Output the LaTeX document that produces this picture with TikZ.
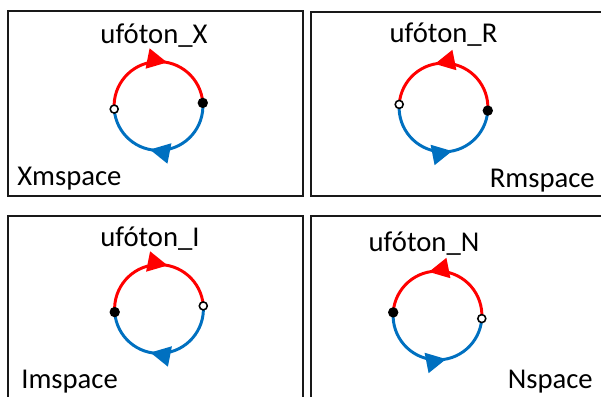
\documentclass[tikz,border=0pt]{standalone}
\usepackage{fontspec}
\setmainfont{Carlito}
\usetikzlibrary{arrows.meta,decorations.markings}
\definecolor{phred}{RGB}{255,0,0}
\definecolor{phblue}{RGB}{0,112,192}
\tikzset{
  frame/.style={draw=black!90,line width=1.4pt},
  lbl/.style={inner sep=0pt,font=\fontsize{20.4}{24}\selectfont},
  ring/.style={line width=2.1pt,postaction={decorate},decoration={markings,
               mark=at position 0.585 with {\arrow{Triangle[length=5mm,width=5mm]}}}},
  hole/.style={circle,draw=black,fill=white,line width=1.1pt,inner sep=0pt,minimum size=2mm},
  fulldot/.style={circle,fill=black,inner sep=0pt,minimum size=2.6mm}
}
\begin{document}
\begin{tikzpicture}
  \useasboundingbox (0,0) rectangle (15.025,9.925);
  % box X : clockwise
  \draw[frame] (0.2,5.025) rectangle (7.575,9.65);
  \node[lbl,anchor=base] (tx) at (3.85,8.825) {ufóton\_X};
  \node[lbl,anchor=base west] (sx) at (0.425,5.275) {Xmspace};
  \coordinate (cx) at (3.9625,7.275);
  \draw[ring,phred]  (cx) ++(184:1.11) coordinate (lx) arc[start angle=184,end angle=4,radius=1.11] coordinate (rx);
  \draw[ring,phblue] (rx) arc[start angle=4,end angle=-176,radius=1.11];
  \node[hole] (ox) at (lx) {};
  \node[fulldot] (fx) at (rx) {};
  % box R : counter-clockwise
  \draw[frame] (7.775,5.025) rectangle (15.2,9.625);
  \node[lbl,anchor=base] (tr) at (11.0875,8.85) {ufóton\_R};
  \node[lbl,anchor=base east] (sr) at (14.875,5.225) {Rmspace};
  \coordinate (cr) at (11.0875,7.2375);
  \draw[ring,phred]  (cr) ++(-4:1.11) coordinate (rr) arc[start angle=-4,end angle=176,radius=1.11] coordinate (lr);
  \draw[ring,phblue] (lr) arc[start angle=176,end angle=356,radius=1.11];
  \node[hole] (or) at (lr) {};
  \node[fulldot] (fr) at (rr) {};
  % box I : clockwise
  \draw[frame] (0.2,-0.2) rectangle (7.575,4.525);
  \node[lbl,anchor=base] (ti) at (3.75,3.75) {ufóton\_I};
  \node[lbl,anchor=base west] (si) at (0.525,0.2) {Imspace};
  \coordinate (ci) at (3.975,2.2);
  \draw[ring,phred]  (ci) ++(184:1.11) coordinate (li) arc[start angle=184,end angle=4,radius=1.11] coordinate (ri);
  \draw[ring,phblue] (ri) arc[start angle=4,end angle=-176,radius=1.11];
  \node[fulldot] (fi) at (li) {};
  \node[hole] (oi) at (ri) {};
  % box N : counter-clockwise
  \draw[frame] (7.775,-0.2) rectangle (15.2,4.525);
  \node[lbl,anchor=base] (tn) at (10.6,3.625) {ufóton\_N};
  \node[lbl,anchor=base east] (sn) at (14.825,0.2) {Nspace};
  \coordinate (cn) at (10.9375,2.0375);
  \draw[ring,phred]  (cn) ++(-4:1.11) coordinate (rn) arc[start angle=-4,end angle=176,radius=1.11] coordinate (ln);
  \draw[ring,phblue] (ln) arc[start angle=176,end angle=356,radius=1.11];
  \node[fulldot] (fn) at (ln) {};
  \node[hole] (on) at (rn) {};
\end{tikzpicture}
\end{document}
